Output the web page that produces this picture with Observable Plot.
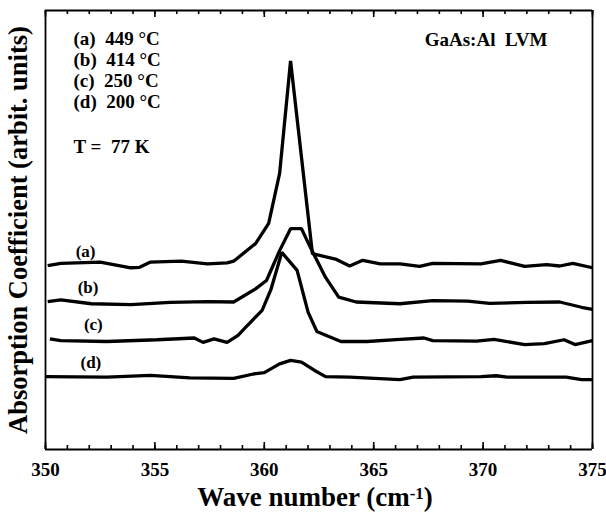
<!DOCTYPE html>
<html><head><meta charset="utf-8">
<script src="https://cdn.jsdelivr.net/npm/d3@7"></script>
<script src="https://cdn.jsdelivr.net/npm/@observablehq/plot@0.6"></script>
<style>body{margin:0;background:#fff}</style>
</head><body><div id="chart"></div>
<script>
const seriesNames = ["(a)", "(b)", "(c)", "(d)"];
const legendLines = ["(a)  449 °C", "(b)  414 °C", "(c)  250 °C", "(d)  200 °C"];
const tempNote = "T =  77 K";
const sampleNote = "GaAs:Al  LVM";
const xTitle = "Wave number (cm-1)";
const yTitle = "Absorption Coefficient (arbit. units)";
const majorTicks = [350, 355, 360, 365, 370, 375];
const minorTicks = d3.range(350, 376, 1);
const xDomain = [350, 375];
const yDomain = [0, 10];

const waveA = [350.1,350.7,352.5,353.9,354.3,354.8,356.2,357.4,358.3,358.6,359.6,360.2,360.7,361.2,362.2,363.3,363.9,364.5,365.3,366.2,367.1,367.7,369.9,370.8,371.9,372.9,373.5,374.1,375.0];
const absA  = [4.19,4.24,4.27,4.14,4.15,4.27,4.29,4.23,4.25,4.29,4.69,5.15,6.29,8.85,4.46,4.33,4.18,4.31,4.23,4.23,4.17,4.24,4.23,4.31,4.17,4.21,4.18,4.24,4.14];

const waveB = [350.1,350.7,352.1,353.9,355.7,357.4,358.6,359.6,360.1,360.7,361.2,361.7,362.1,362.8,363.4,364.2,366.2,367.7,369.3,370.3,372.0,373.5,374.5,375.0];
const absB  = [3.37,3.41,3.32,3.30,3.35,3.37,3.36,3.66,3.85,4.53,5.03,5.03,4.61,3.92,3.47,3.36,3.32,3.39,3.38,3.33,3.35,3.36,3.24,3.19];

const waveC = [350.2,350.7,352.8,355.1,356.8,357.2,357.7,358.3,358.8,359.1,359.9,360.3,360.8,361.5,362.0,362.4,363.5,364.7,366.2,367.3,367.7,369.7,370.5,371.9,372.8,373.7,374.2,375.0];
const absC  = [2.52,2.48,2.46,2.50,2.54,2.44,2.52,2.44,2.60,2.76,3.17,3.64,4.49,4.08,3.13,2.69,2.46,2.46,2.51,2.54,2.48,2.47,2.51,2.39,2.41,2.50,2.39,2.48];

const waveD = [350.0,352.8,354.8,356.6,358.6,359.5,360.0,360.7,361.2,361.7,362.3,362.8,363.9,366.2,366.8,369.9,370.6,371.1,373.8,374.5,375.0];
const absD  = [1.66,1.65,1.69,1.63,1.62,1.72,1.75,1.95,2.03,1.99,1.80,1.66,1.65,1.59,1.65,1.66,1.68,1.65,1.65,1.59,1.59];

const waves = [waveA, waveB, waveC, waveD];
const absorb = [absA, absB, absC, absD];
const rows = seriesNames.flatMap((s, i) => waves[i].map((w, j) => ({series: s, x: w, y: absorb[i][j]})));
const firstPts = seriesNames.map((s, i) => ({series: s, x: waves[i][0], y: absorb[i][0]}));
const labelDx = [28, 30, 34, 35];

const font = "Liberation Serif, Times New Roman, serif";
const W = 606, H = 515, mL = 45, mR = 14, mT = 10, mB = 66;
const innerH = H - mT - mB;
const pxToY = (yDomain[1] - yDomain[0]) / innerH;

const inwardTicks = (values, len) => [
  Plot.ruleX(values, {x: d => d, y1: yDomain[0], y2: yDomain[0] + len * pxToY, stroke: "black", strokeWidth: 1.6}),
  Plot.ruleX(values, {x: d => d, y1: yDomain[1], y2: yDomain[1] - len * pxToY, stroke: "black", strokeWidth: 1.6})
];

const chart = Plot.plot({
  width: W,
  height: H,
  marginLeft: mL,
  marginRight: mR,
  marginTop: mT,
  marginBottom: mB,
  style: {fontFamily: font, fontWeight: "bold", background: "white", color: "black"},
  x: {domain: xDomain, label: null},
  y: {domain: yDomain, axis: null},
  marks: [
    Plot.ruleY(yDomain, {stroke: "black", strokeWidth: 1.8}),
    Plot.ruleX(xDomain, {stroke: "black", strokeWidth: 1.8}),
    ...inwardTicks(minorTicks, 4),
    ...inwardTicks(majorTicks, 7),
    Plot.axisX({anchor: "bottom", ticks: majorTicks, tickSize: 0, tickPadding: 13, fontSize: 19, fontWeight: "bold", label: null, tickFormat: d => String(d)}),
    Plot.line(rows, {x: "x", y: "y", z: "series", stroke: "black", strokeWidth: 3.3, strokeLinejoin: "miter", strokeLinecap: "butt"}),
    ...firstPts.map((p, i) => Plot.text([p], {x: "x", y: "y", text: "series", textAnchor: "start", lineAnchor: "middle", dx: labelDx[i], dy: -14, fontSize: 17, fontWeight: "bold"})),
    Plot.text([legendLines.join("\n")], {frameAnchor: "top-left", dx: 28, dy: 19, textAnchor: "start", lineAnchor: "top", lineHeight: 1.12, fontSize: 19, fontWeight: "bold"}),
    Plot.text([tempNote], {frameAnchor: "top-left", dx: 28, dy: 129, textAnchor: "start", lineAnchor: "top", fontSize: 19, fontWeight: "bold"}),
    Plot.text([sampleNote], {frameAnchor: "top-right", dx: -45, dy: 22, textAnchor: "end", lineAnchor: "top", fontSize: 19, fontWeight: "bold"}),
    Plot.text([xTitle], {frameAnchor: "bottom", dx: -4, dy: 48, textAnchor: "middle", lineAnchor: "middle", fontSize: 27, fontWeight: "bold"}),
    Plot.text([yTitle], {frameAnchor: "left", dx: -27, rotate: -90, textAnchor: "middle", lineAnchor: "middle", fontSize: 26.5, fontWeight: "bold"})
  ]
});
document.getElementById("chart").appendChild(chart);

d3.select(chart).selectAll("text").filter(function () { return this.textContent === xTitle; })
  .each(function () {
    const t = d3.select(this);
    t.text(null);
    t.append("tspan").text("Wave number (cm");
    t.append("tspan").attr("dy", "-0.45em").attr("font-size", "0.62em").text("-1");
    t.append("tspan").attr("dy", "0.28em").text(")");
  });
</script>
</body></html>
